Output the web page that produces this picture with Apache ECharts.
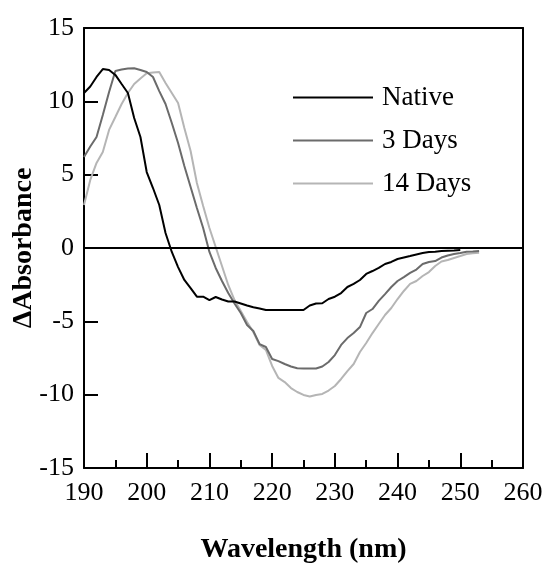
<!DOCTYPE html>
<html>
<head>
<meta charset="utf-8">
<script src="https://cdn.jsdelivr.net/npm/echarts@6/dist/echarts.min.js"></script>
<style>html,body{margin:0;padding:0;background:#fff;}#c{width:546px;height:564px;}</style>
</head>
<body>
<div id="c"></div>
<script>
const wavelengths = [190,191,192,193,194,195,196,197,198,199,200,201,202,203,204,205,206,207,208,209,210,211,212,213,214,215,216,217,218,219,220,221,222,223,224,225,226,227,228,229,230,231,232,233,234,235,236,237,238,239,240,241,242,243,244,245,246,247,248,249,250,251,252,253];
const native = [10.57,11.01,11.66,12.2,12.14,11.8,11.18,10.57,8.86,7.57,5.18,4.09,2.93,1.02,-0.27,-1.30,-2.18,-2.73,-3.32,-3.32,-3.55,-3.34,-3.51,-3.65,-3.65,-3.78,-3.92,-4.04,-4.13,-4.23,-4.23,-4.23,-4.23,-4.23,-4.23,-4.23,-3.92,-3.78,-3.77,-3.48,-3.32,-3.07,-2.66,-2.45,-2.18,-1.77,-1.57,-1.36,-1.09,-0.95,-0.75,-0.65,-0.55,-0.44,-0.34,-0.27,-0.25,-0.20,-0.18,-0.17,-0.14,null,null,null];
const days3 = [6.20,6.92,7.57,9.07,10.64,12.07,12.17,12.24,12.25,12.14,12.0,11.66,10.70,9.82,8.52,7.16,5.59,4.16,2.73,1.36,-0.27,-1.36,-2.25,-3.07,-3.78,-4.43,-5.25,-5.66,-6.55,-6.75,-7.57,-7.71,-7.91,-8.08,-8.20,-8.22,-8.22,-8.22,-8.08,-7.77,-7.30,-6.61,-6.14,-5.80,-5.39,-4.43,-4.16,-3.61,-3.14,-2.66,-2.25,-1.98,-1.70,-1.47,-1.09,-0.95,-0.89,-0.65,-0.51,-0.41,-0.34,-0.25,-0.24,-0.20];
const days14 = [2.93,4.64,5.80,6.55,8.05,8.93,9.82,10.57,11.18,11.56,11.91,11.97,12.0,11.25,10.57,9.89,8.18,6.61,4.43,2.86,1.36,0.07,-1.23,-2.52,-3.55,-4.30,-5.05,-5.73,-6.61,-6.95,-8.04,-8.86,-9.14,-9.55,-9.82,-10.02,-10.12,-10.02,-9.95,-9.72,-9.41,-8.93,-8.39,-7.91,-7.09,-6.48,-5.80,-5.18,-4.57,-4.09,-3.48,-2.93,-2.45,-2.25,-1.91,-1.64,-1.23,-0.92,-0.82,-0.68,-0.55,-0.41,-0.36,-0.32];
const seriesNames = ['Native','3 Days','14 Days'];
const seriesColors = ['#000000','#6b6b6b','#b5b5b5'];
const xTicks = [190,200,210,220,230,240,250,260];
const yTicks = [-15,-10,-5,0,5,10,15];

const font = 'Liberation Serif';
const pairs = arr => wavelengths.map((w,i)=>[w,arr[i]]);
const allData = [native, days3, days14];
const blk = {color:'#000', width:2};

const chart = echarts.init(document.getElementById('c'));
chart.setOption({
  animation:false,
  backgroundColor:'#fff',
  grid:{left:84, top:28, width:439, height:440, show:false, outerBoundsMode:'none', containLabel:false},
  legend:{
    orient:'vertical', left:293, top:84, padding:0, itemWidth:80, itemHeight:2, itemGap:16,
    icon:'rect',
    textStyle:{fontFamily:font, fontSize:27, color:'#000', padding:[0,0,0,4], lineHeight:27},
    data:seriesNames
  },
  xAxis:[{
    type:'value', min:190, max:260, interval:10, position:'bottom',
    name:'Wavelength (nm)', nameLocation:'middle', nameGap:68,
    nameTextStyle:{fontFamily:font, fontSize:28, fontWeight:'bold', color:'#000'},
    axisLine:{show:true, onZero:false, lineStyle:blk},
    axisTick:{show:true, inside:true, length:15, lineStyle:blk},
    minorTick:{show:true, splitNumber:2, length:8, lineStyle:blk},
    splitLine:{show:false},
    axisLabel:{show:true, fontFamily:font, fontSize:26, color:'#000', margin:12,
      formatter:v=> xTicks.includes(v) ? String(v) : ''}
  },{
    type:'value', min:190, max:260, interval:10, position:'top',
    axisLine:{show:true, onZero:false, lineStyle:blk},
    axisTick:{show:false}, axisLabel:{show:false}, splitLine:{show:false}
  }],
  yAxis:[{
    type:'value', min:-15, max:15, interval:5, position:'left',
    name:'\u0394Absorbance', nameLocation:'middle', nameGap:46, nameMoveOverlap:false,
    nameTextStyle:{fontFamily:font, fontSize:28, fontWeight:'bold', color:'#000'},
    axisLine:{show:true, onZero:false, lineStyle:blk},
    axisTick:{show:true, inside:true, length:14, lineStyle:blk},
    splitLine:{show:false},
    axisLabel:{show:true, fontFamily:font, fontSize:26, color:'#000', margin:10,
      formatter:v=> yTicks.includes(v) ? String(v) : ''}
  },{
    type:'value', min:-15, max:15, interval:5, position:'right',
    axisLine:{show:true, onZero:false, lineStyle:blk},
    axisTick:{show:false}, axisLabel:{show:false}, splitLine:{show:false}
  }],
  series: seriesNames.map((n,i)=>({
    name:n, type:'line', data:pairs(allData[i]), symbol:'none', showSymbol:false,
    xAxisIndex:0, yAxisIndex:0,
    lineStyle:{color:seriesColors[i], width:2}, itemStyle:{color:seriesColors[i]},
    z: 5 - i,
    markLine: i===0 ? {silent:true, symbol:'none', label:{show:false},
      lineStyle:{color:'#000', width:2, type:'solid'}, data:[{yAxis:0}]} : undefined
  }))
});
</script>
</body>
</html>
